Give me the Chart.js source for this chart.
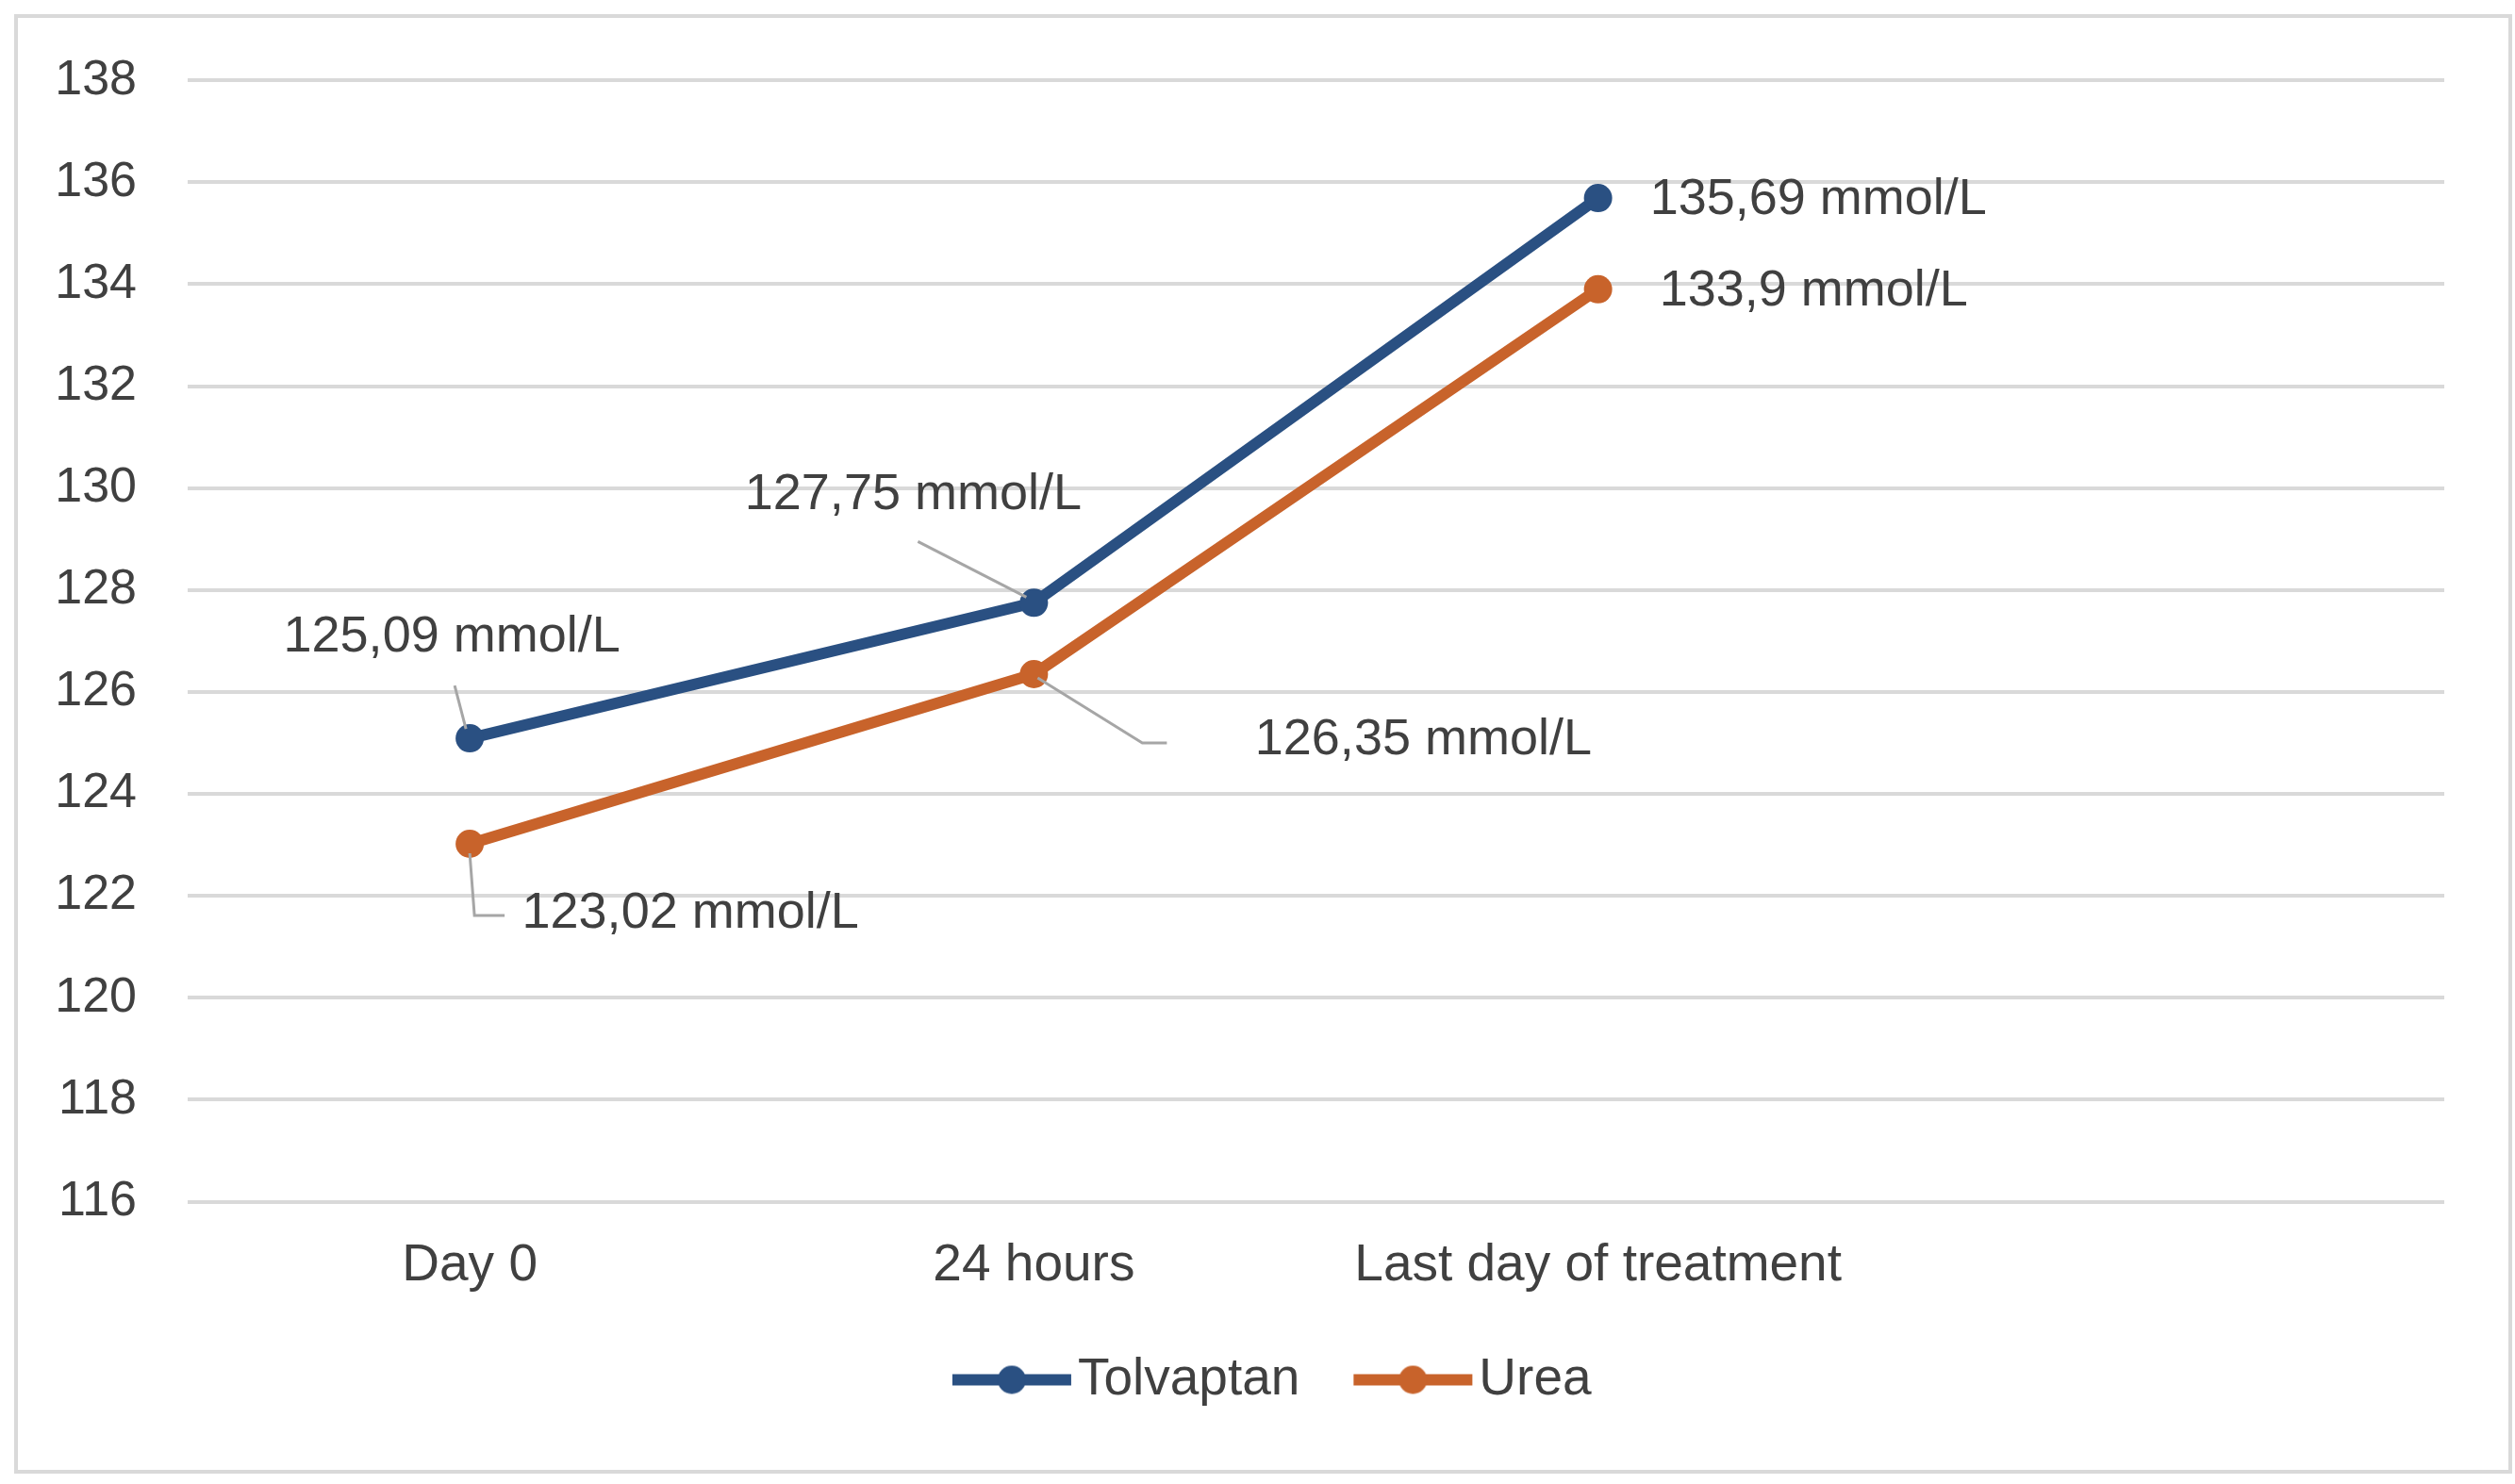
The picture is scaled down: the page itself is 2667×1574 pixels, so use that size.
<!DOCTYPE html>
<html lang="en">
<head>
    <meta charset="UTF-8">
    <title>Serum sodium</title>
    <script src="https://cdn.jsdelivr.net/npm/chart.js"></script>
    <style>
        html, body { margin: 0; padding: 0; background: #fff; }
        .wrap { position: relative; width: 2667px; height: 1574px; }
        .frame {
            position: absolute; left: 15px; top: 15px;
            width: 2641px; height: 1540px;
            border: 4px solid #d9d9d9;
        }
        canvas { position: absolute; left: 0; top: 0; }
    </style>
</head>
<body>
<div class="wrap">
    <div class="frame"></div>
    <canvas id="myChart" width="2667" height="1574"></canvas>
</div>

<script>
    // data
    const categories = ['Day 0', '24 hours', 'Last day of treatment', ''];
    const tolvaptan = [125.09, 127.75, 135.69];
    const urea = [123.02, 126.35, 133.9];
    const tolvaptanLabels = ['125,09 mmol/L', '127,75 mmol/L', '135,69 mmol/L'];
    const ureaLabels = ['123,02 mmol/L', '126,35 mmol/L', '133,9 mmol/L'];

    const BLUE = '#2a5082';
    const ORANGE = '#c8632b';
    const TEXT = '#404040';
    const FONT = '"Liberation Sans", Arial, sans-serif';

    // label placement relative to each point (px): text anchor + optional leader line
    const labelPos = [
        [
            { dx: -19, dy: -107, align: 'center', lead: [[-16, -56], [-4, -10]] },
            { dx: -128, dy: -114, align: 'center', lead: [[-123, -65], [-8, -6]] },
            { dx: 55, dy: 2, align: 'left' }
        ],
        [
            { dx: 234, dy: 74, align: 'center', lead: [[0, 10], [5, 76], [37, 76]] },
            { dx: 413, dy: 70, align: 'center', lead: [[4, 4], [115, 73], [141, 73]] },
            { dx: 65, dy: 2, align: 'left' }
        ]
    ];
    const allLabels = [tolvaptanLabels, ureaLabels];

    // legend symbol: line with a dot, drawn in the right part of a wider canvas
    function legendSymbol(color) {
        const c = document.createElement('canvas');
        c.width = 198; c.height = 32;
        const g = c.getContext('2d');
        g.strokeStyle = color; g.lineWidth = 12;
        g.beginPath(); g.moveTo(70, 16); g.lineTo(196, 16); g.stroke();
        g.fillStyle = color;
        g.beginPath(); g.arc(133, 16, 15, 0, Math.PI * 2); g.fill();
        return c;
    }
    const symbols = [legendSymbol(BLUE), legendSymbol(ORANGE)];

    const valueLabels = {
        id: 'valueLabels',
        afterDatasetsDraw(chart) {
            const ctx = chart.ctx;
            ctx.save();
            ctx.font = '54px ' + FONT;
            ctx.fillStyle = TEXT;
            ctx.textBaseline = 'middle';
            chart.data.datasets.forEach((ds, di) => {
                chart.getDatasetMeta(di).data.forEach((pt, i) => {
                    const p = labelPos[di][i];
                    if (p.lead) {
                        ctx.strokeStyle = '#a6a6a6';
                        ctx.lineWidth = 3;
                        ctx.beginPath();
                        p.lead.forEach((q, k) => {
                            if (k === 0) ctx.moveTo(pt.x + q[0], pt.y + q[1]);
                            else ctx.lineTo(pt.x + q[0], pt.y + q[1]);
                        });
                        ctx.stroke();
                    }
                    ctx.textAlign = p.align;
                    ctx.fillText(allLabels[di][i], pt.x + p.dx, pt.y + p.dy);
                });
            });
            ctx.restore();
        }
    };

    const ctx = document.getElementById('myChart').getContext('2d');
    new Chart(ctx, {
        type: 'line',
        data: {
            labels: categories,
            datasets: [
                {
                    label: 'Tolvaptan',
                    data: tolvaptan,
                    borderColor: BLUE,
                    backgroundColor: BLUE,
                    borderWidth: 12,
                    pointRadius: 15,
                    pointBorderWidth: 0,
                    tension: 0
                },
                {
                    label: 'Urea',
                    data: urea,
                    borderColor: ORANGE,
                    backgroundColor: ORANGE,
                    borderWidth: 12,
                    pointRadius: 15,
                    pointBorderWidth: 0,
                    tension: 0
                }
            ]
        },
        options: {
            responsive: false,
            animation: false,
            devicePixelRatio: 1,
            layout: { padding: { top: 82, right: 75, left: 58, bottom: 73 } },
            scales: {
                x: {
                    offset: true,
                    grid: { display: false, drawTicks: false },
                    border: { display: false },
                    ticks: {
                        color: TEXT,
                        font: { size: 55, family: FONT },
                        padding: 35,
                        maxRotation: 0,
                        autoSkip: false
                    },
                    afterFit(s) { s.height = 152; }
                },
                y: {
                    min: 116,
                    max: 138,
                    grid: { color: '#d9d9d9', lineWidth: 4, drawTicks: false },
                    border: { display: false },
                    ticks: {
                        stepSize: 2,
                        color: TEXT,
                        font: { size: 52, family: FONT },
                        padding: 54
                    },
                    afterFit(s) { s.width = 141; }
                }
            },
            plugins: {
                tooltip: { enabled: false },
                legend: {
                    position: 'bottom',
                    labels: {
                        usePointStyle: true,
                        pointStyleWidth: 153,
                        padding: 9.5,
                        color: TEXT,
                        font: { size: 55, family: FONT },
                        generateLabels(chart) {
                            return chart.data.datasets.map((ds, i) => ({
                                text: ds.label,
                                pointStyle: symbols[i],
                                fontColor: TEXT,
                                strokeStyle: ds.borderColor,
                                fillStyle: ds.backgroundColor,
                                lineWidth: 0,
                                datasetIndex: i
                            }));
                        }
                    }
                }
            }
        },
        plugins: [valueLabels]
    });
</script>
</body>
</html>
